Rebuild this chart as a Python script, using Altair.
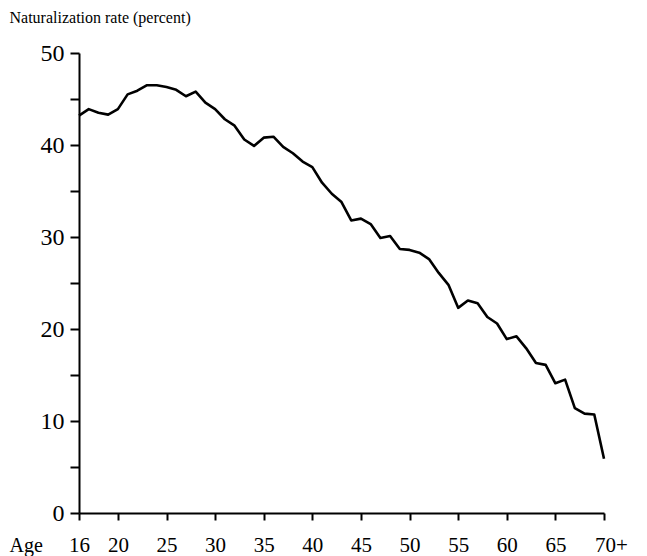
import altair as alt
import pandas as pd

ages = list(range(16, 71))
rates = [43.2, 43.9, 43.5, 43.3, 43.9, 45.5, 45.9, 46.5, 46.5, 46.3,
         46.0, 45.3, 45.8, 44.6, 43.9, 42.8, 42.1, 40.6, 39.9, 40.8,
         40.9, 39.8, 39.1, 38.2, 37.6, 35.9, 34.7, 33.8, 31.8, 32.0,
         31.4, 29.9, 30.1, 28.7, 28.6, 28.3, 27.6, 26.1, 24.8, 22.3,
         23.1, 22.8, 21.3, 20.6, 18.9, 19.2, 17.9, 16.3, 16.1, 14.1,
         14.5, 11.4, 10.8, 10.7, 5.9]

x_ticks = [16, 20, 25, 30, 35, 40, 45, 50, 55, 60, 65, 70]
x_labels = ["16", "20", "25", "30", "35", "40", "45", "50", "55", "60", "65", "70+"]
y_ticks = [0, 5, 10, 15, 20, 25, 30, 35, 40, 45, 50]

df = pd.DataFrame({"age": ages, "rate": rates})

label_map = "{" + ",".join(f"'{v}':'{l}'" for v, l in zip(x_ticks, x_labels)) + "}"

FONT = "Liberation Serif"

chart = alt.Chart(df).mark_line(color="black", strokeWidth=2.6, strokeJoin="round").encode(
    x=alt.X("age:Q",
            scale=alt.Scale(domain=[16, 70], nice=False, zero=False),
            axis=alt.Axis(values=x_ticks,
                          labelExpr=f"{label_map}[datum.value + '']",
                          labelOffset={"condition": {"test": "datum.value == 70", "value": 7}, "value": 0},
                          title="Age", titleX=-70, titleY=38, titleAlign="left",
                          titleBaseline="alphabetic", titleFont=FONT, titleFontSize=20,
                          titleFontWeight="normal", titleColor="black",
                          labelFont=FONT, labelFontSize=21, labelColor="black",
                          labelPadding=14, tickSize=7, tickWidth=2, tickColor="black",
                          domainColor="black", domainWidth=2, grid=False,
                          labelFlush=False, labelOverlap=False)),
    y=alt.Y("rate:Q",
            scale=alt.Scale(domain=[0, 50], nice=False),
            axis=alt.Axis(values=y_ticks,
                          labelExpr="datum.value % 10 == 0 ? datum.label : ''",
                          title="Naturalization rate (percent)", titleAngle=0,
                          titleX=-70, titleY=-31, titleAlign="left",
                          titleBaseline="alphabetic", titleFont=FONT, titleFontSize=16,
                          titleFontWeight="normal", titleColor="black",
                          labelFont=FONT, labelFontSize=24, labelColor="black",
                          labelPadding=6, tickSize=9, tickWidth=2, tickColor="black",
                          domainColor="black", domainWidth=2, grid=False,
                          labelOverlap=False)),
).properties(
    width=525, height=460,
    autosize=alt.AutoSizeParams(type="none"),
    padding={"left": 71, "top": 45, "right": 35, "bottom": 55},
).configure_view(stroke=None)

chart.save("out.html", embed_options={"renderer": "svg", "actions": False})
